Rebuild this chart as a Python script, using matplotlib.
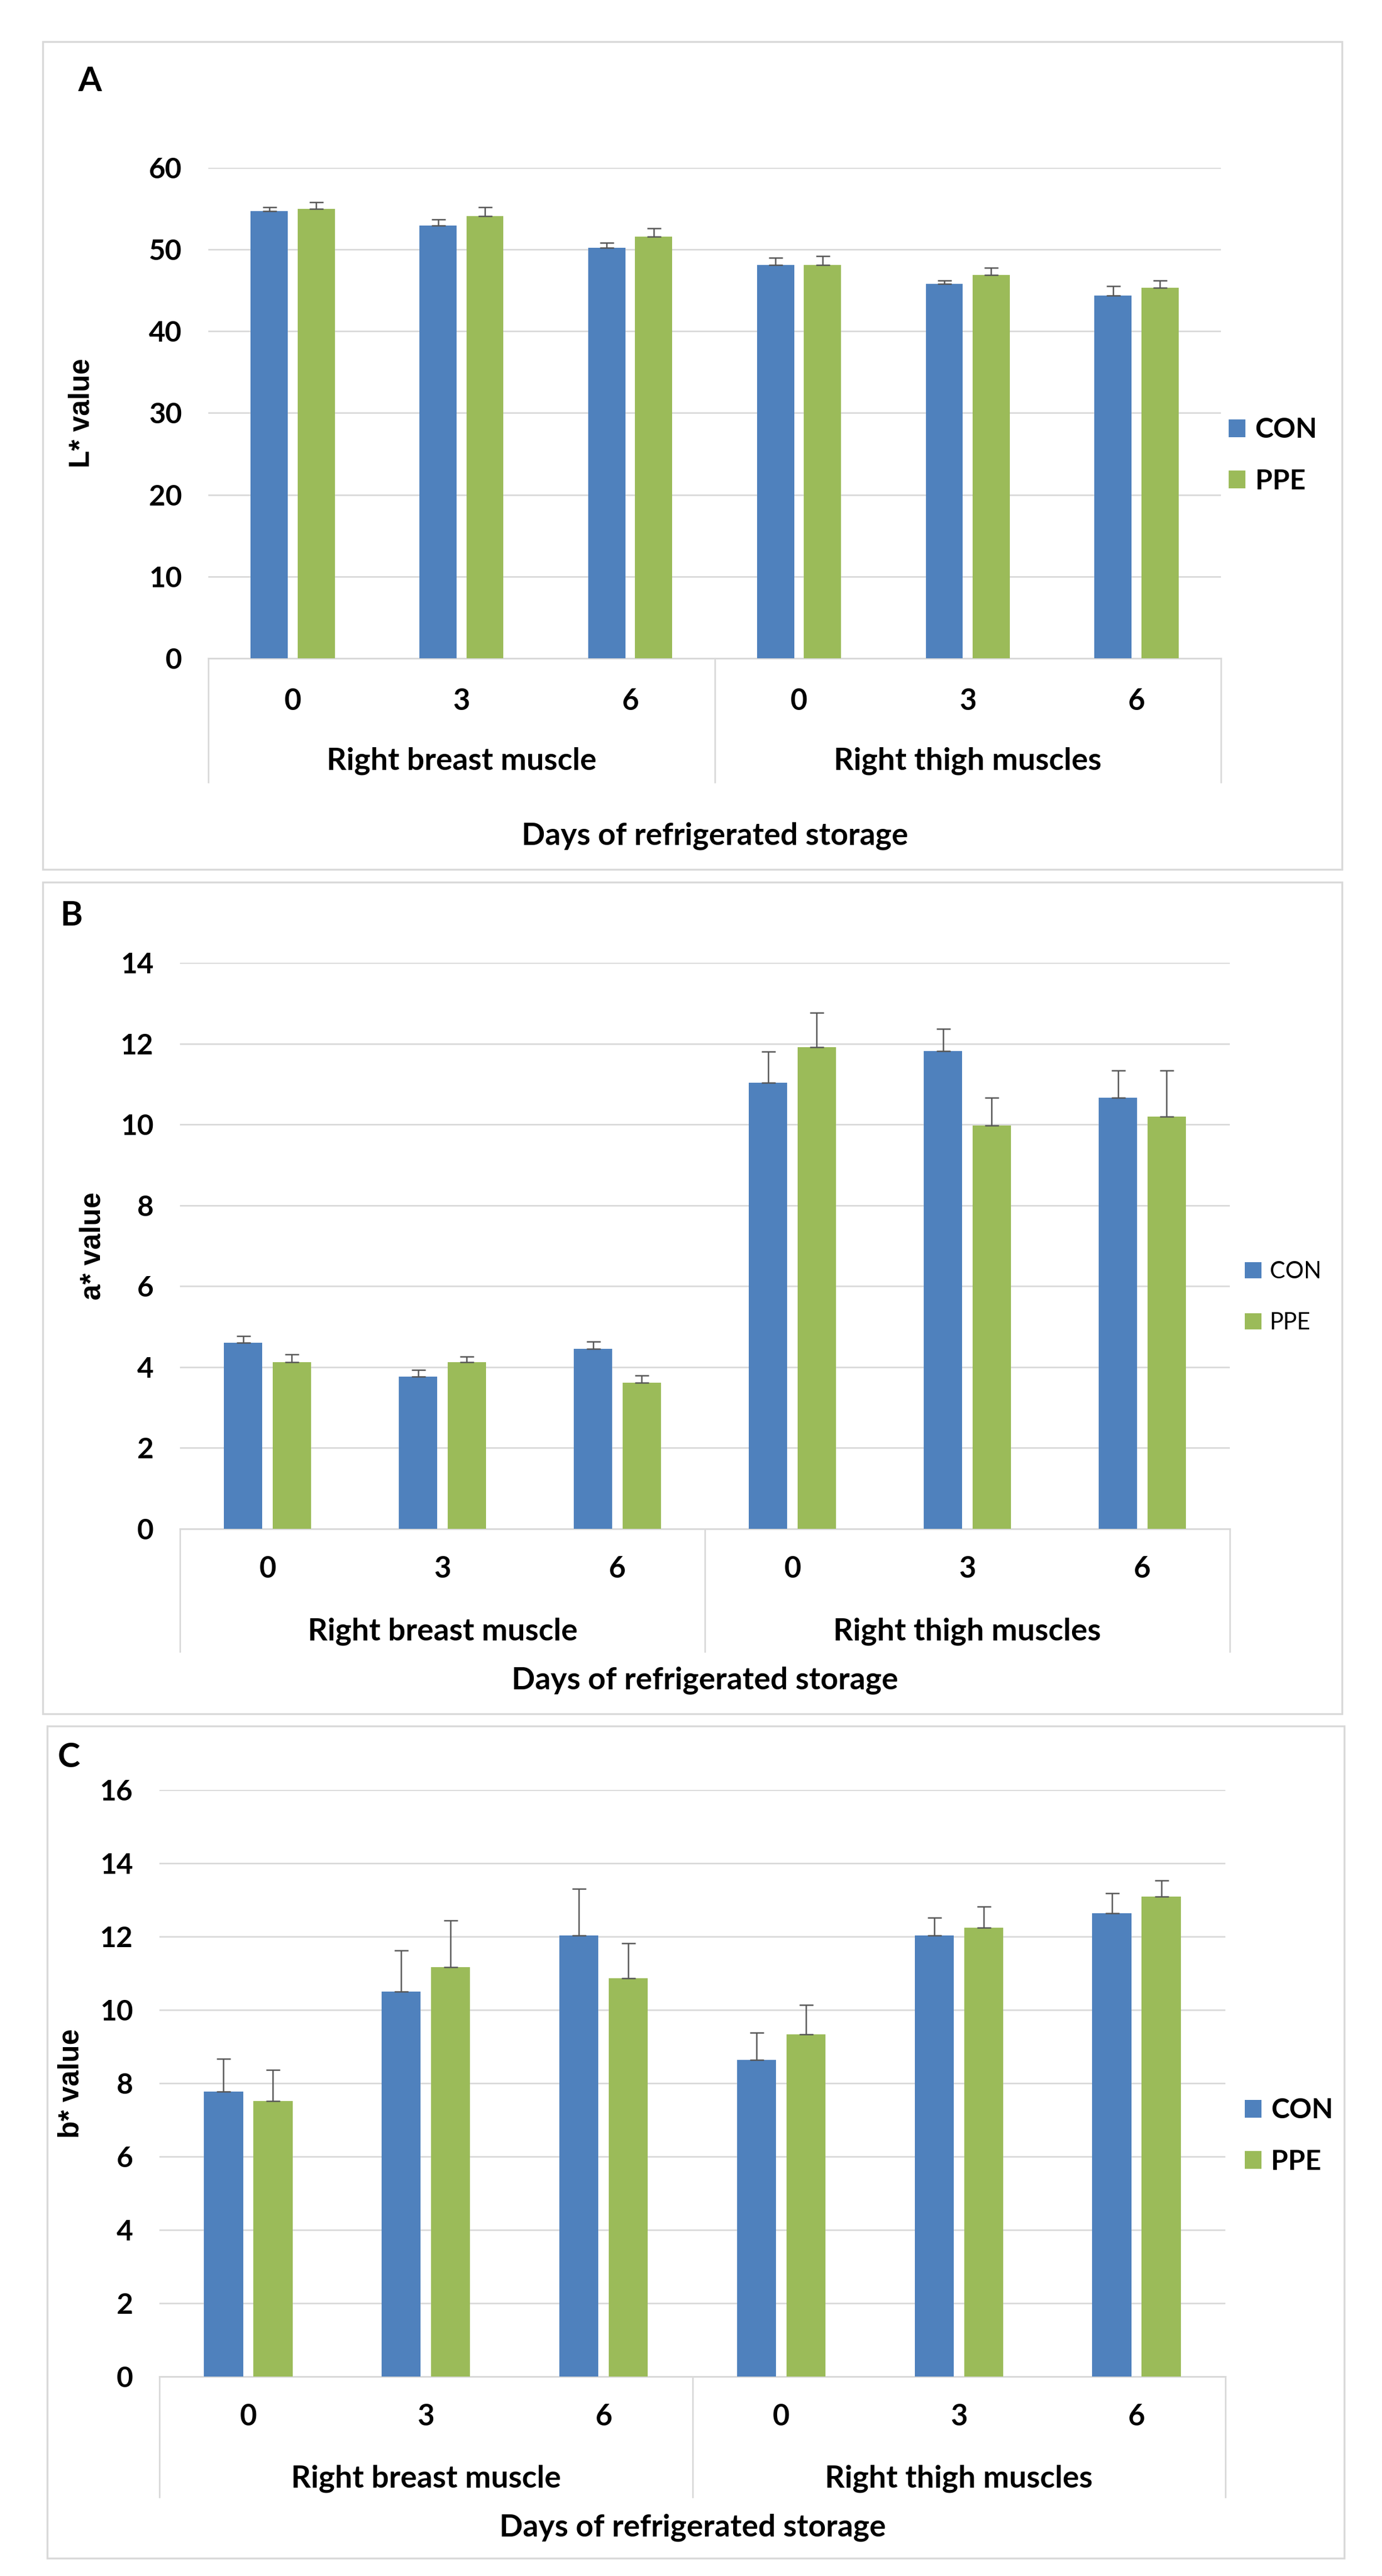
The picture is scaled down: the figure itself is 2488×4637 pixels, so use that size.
import matplotlib
matplotlib.use("Agg")
import matplotlib.pyplot as plt
import matplotlib.transforms as mtransforms
from matplotlib.patches import Rectangle
from matplotlib.lines import Line2D
import numpy as np

# ---------------- data ----------------
days = ["0", "3", "6", "0", "3", "6"]
groups = ["Right breast muscle", "Right thigh muscles"]
series_names = ["CON", "PPE"]

L_con = [54.7, 52.9, 50.2, 48.1, 45.8, 44.4]
L_con_err = [0.5, 0.8, 0.6, 0.9, 0.4, 1.1]
L_ppe = [55.0, 54.1, 51.6, 48.1, 46.9, 45.3]
L_ppe_err = [0.8, 1.1, 1.0, 1.1, 0.9, 0.9]

a_con = [4.60, 3.76, 4.45, 11.03, 11.81, 10.66]
a_con_err = [0.17, 0.17, 0.18, 0.77, 0.55, 0.67]
a_ppe = [4.12, 4.12, 3.61, 11.91, 9.97, 10.19]
a_ppe_err = [0.19, 0.14, 0.18, 0.86, 0.69, 1.14]

b_con = [7.77, 10.50, 12.03, 8.64, 12.03, 12.64]
b_con_err = [0.90, 1.12, 1.27, 0.74, 0.49, 0.54]
b_ppe = [7.52, 11.17, 10.86, 9.33, 12.24, 13.09]
b_ppe_err = [0.84, 1.27, 0.96, 0.81, 0.58, 0.44]

panel_letters = ["A", "B", "C"]
y_labels = ["L* value", "a* value", "b* value"]
x_title = "Days of refrigerated storage"

# ---------------- style ----------------
W, H = 2488, 4637
DPI = 100
BLUE = "#4F81BD"
GREEN = "#9BBB59"
GRID = "#D9D9D9"
ERR = "#555555"
FONT = "Lato"
YFONT = "Liberation Sans"

fig = plt.figure(figsize=(W / DPI, H / DPI), dpi=DPI)
fig.patch.set_facecolor("white")


def fx(x):
    return x / W


def fy(y):
    return 1 - y / H


layouts = [
    dict(box=(77, 75, 2416, 1565), ax=(375, 302, 2198, 1185), ymax=60, step=10,
         letter=(140, 118), ylab=147, leg=(2212, 820), leg_bold=True, leg_size=36,
         leg_space=0.95, tick_y=1262, group_y=1370, line_bot=1408, days_y=1505),
    dict(box=(77, 1588, 2416, 3085), ax=(324, 1733, 2214, 2752), ymax=14, step=2,
         letter=(108, 1620), ylab=167, leg=(2241, 2335), leg_bold=False, leg_size=30,
         leg_space=1.3, tick_y=2825, group_y=2937, line_bot=2973, days_y=3025),
    dict(box=(85, 3107, 2420, 4605), ax=(287, 3222, 2206, 4278), ymax=16, step=2,
         letter=(104, 3135), ylab=128, leg=(2241, 3845), leg_bold=True, leg_size=36,
         leg_space=0.95, tick_y=4350, group_y=4462, line_bot=4495, days_y=4550),
]

data = [
    (L_con, L_con_err, L_ppe, L_ppe_err),
    (a_con, a_con_err, a_ppe, a_ppe_err),
    (b_con, b_con_err, b_ppe, b_ppe_err),
]

x = np.arange(len(days))
bw = 0.22
off = 0.139

for i, (lay, (con, cone, ppe, ppee)) in enumerate(zip(layouts, data)):
    # panel frame
    bx0, by0, bx1, by1 = lay["box"]
    fig.add_artist(Rectangle((fx(bx0), fy(by1)), (bx1 - bx0) / W, (by1 - by0) / H,
                             transform=fig.transFigure, fill=False,
                             edgecolor=GRID, linewidth=2.5, zorder=0))

    l, t, r, b = lay["ax"]
    ax = fig.add_axes([fx(l), fy(b), (r - l) / W, (b - t) / H])
    ax.set_facecolor("none")

    b1 = ax.bar(x - off, con, bw, color=BLUE, zorder=2, label=series_names[0])
    b2 = ax.bar(x + off, ppe, bw, color=GREEN, zorder=2, label=series_names[1])
    ax.errorbar(x - off, con, yerr=[np.zeros(len(con)), cone], fmt="none",
                ecolor=ERR, elinewidth=1.8, capsize=9, capthick=1.8, zorder=3)
    ax.errorbar(x + off, ppe, yerr=[np.zeros(len(ppe)), ppee], fmt="none",
                ecolor=ERR, elinewidth=1.8, capsize=9, capthick=1.8, zorder=3)

    ax.set_xlim(-0.5, len(days) - 0.5)
    ax.set_ylim(0, lay["ymax"])
    ax.set_yticks(np.arange(0, lay["ymax"] + 0.01, lay["step"]))
    ax.yaxis.grid(True, color=GRID, linewidth=2, zorder=0)
    ax.set_axisbelow(True)
    for s in ["top", "right", "left"]:
        ax.spines[s].set_visible(False)
    ax.spines["bottom"].set_color(GRID)
    ax.spines["bottom"].set_linewidth(2.2)
    ax.spines["bottom"].set_zorder(1)
    ax.set_xticks([])
    ax.tick_params(axis="y", length=0, pad=34, labelsize=37)
    for lab in ax.get_yticklabels():
        lab.set_fontfamily(FONT)
        lab.set_fontweight("bold")

    # multi-level category axis
    bt = mtransforms.blended_transform_factory(ax.transData, fig.transFigure)
    for xi, d in zip(x, days):
        ax.text(xi, fy(lay["tick_y"]), d, transform=bt, ha="center", va="center",
                fontsize=38, fontfamily=FONT, fontweight="bold", clip_on=False)
    for gi, g in enumerate(groups):
        ax.text(gi * 3 + 1, fy(lay["group_y"]), g, transform=bt, ha="center", va="center",
                fontsize=40, fontfamily=FONT, fontweight="bold", clip_on=False)
    for xv in [-0.5, 2.5, 5.5]:
        ax.add_line(Line2D([xv, xv], [fy(b), fy(lay["line_bot"])], transform=bt,
                           color=GRID, linewidth=2, clip_on=False))

    # x title
    fig.text((fx(l) + fx(r)) / 2, fy(lay["days_y"]), x_title, ha="center", va="center",
             fontsize=40, fontfamily=FONT, fontweight="bold")

    # y label, centred on the plot area
    fig.text(fx(lay["ylab"]), fy((t + b) / 2), y_labels[i], rotation=90,
             ha="center", va="center", fontsize=37, fontfamily=YFONT, fontweight="bold")

    # panel letter
    fig.text(fx(lay["letter"][0]), fy(lay["letter"][1]), panel_letters[i], ha="left", va="top",
             fontsize=44, fontfamily=FONT, fontweight="bold")

    # legend
    fs = lay["leg_size"]
    hl = 30 / (fs * DPI / 72)
    fig.legend([b1, b2], series_names, loc="center left",
               bbox_to_anchor=(fx(lay["leg"][0]), fy(lay["leg"][1])),
               bbox_transform=fig.transFigure, frameon=False,
               handlelength=hl, handleheight=hl, handletextpad=0.35,
               labelspacing=lay["leg_space"], borderpad=0, borderaxespad=0,
               prop=dict(family=FONT, size=fs,
                         weight="bold" if lay["leg_bold"] else "normal"))

fig.savefig("out.png", dpi=DPI, facecolor="white")
